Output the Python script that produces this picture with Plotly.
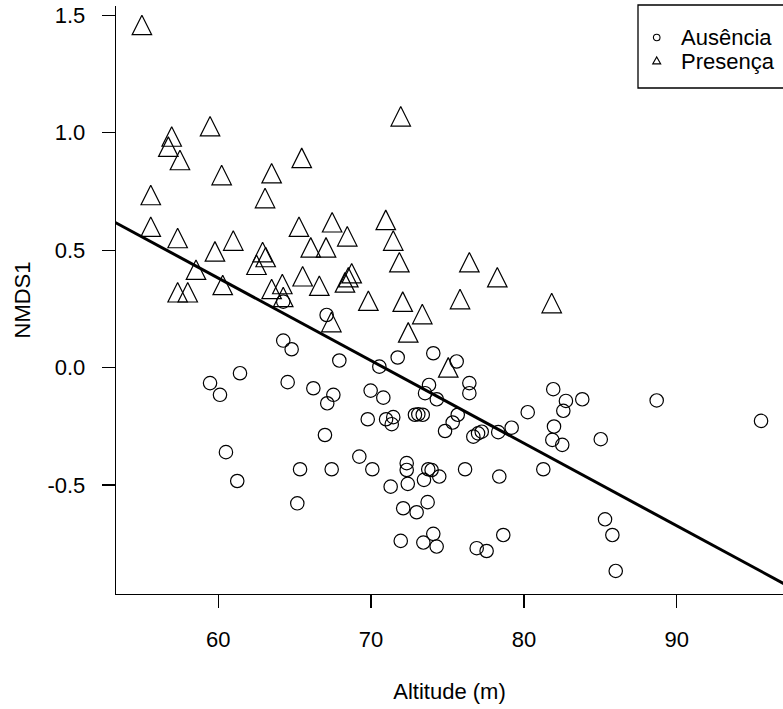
import plotly.graph_objects as go

# ---------------- data ----------------
aus_x = [67.09, 64.25, 64.80, 61.42, 59.46, 60.11, 64.54, 66.22, 67.53, 67.13,
         67.92, 66.98, 60.50, 61.24, 65.35, 67.42, 65.17, 70.54, 71.74, 74.07,
         75.60, 69.97, 70.80, 73.79, 73.53, 74.30, 76.43, 76.43, 69.78, 70.98,
         71.45, 71.35, 72.87, 73.09, 73.38, 74.84, 75.34, 75.67, 76.69, 77.00,
         77.24, 78.32, 79.20, 80.25, 81.92, 81.97, 81.86, 69.23, 70.08, 72.33,
         72.33, 73.74, 73.96, 74.46, 73.46, 72.40, 71.28, 76.15, 78.39, 81.27,
         73.70, 72.10, 72.98, 71.94, 73.42, 74.07, 74.29, 76.91, 77.56, 78.65,
         82.75, 82.58, 83.82, 88.69, 95.52, 82.51, 85.03, 85.31, 85.79, 86.01,
         64.25]
aus_y = [0.224, 0.115, 0.078, -0.024, -0.066, -0.116, -0.062, -0.088, -0.116, -0.152,
         0.030, -0.287, -0.360, -0.483, -0.433, -0.433, -0.578, 0.004, 0.043, 0.061,
         0.026, -0.098, -0.128, -0.074, -0.109, -0.135, -0.066, -0.109, -0.220, -0.220,
         -0.211, -0.241, -0.201, -0.199, -0.201, -0.270, -0.234, -0.201, -0.294, -0.280,
         -0.273, -0.275, -0.256, -0.190, -0.092, -0.251, -0.308, -0.379, -0.433, -0.407,
         -0.436, -0.433, -0.436, -0.464, -0.478, -0.495, -0.507, -0.433, -0.464, -0.433,
         -0.573, -0.599, -0.616, -0.738, -0.745, -0.708, -0.762, -0.769, -0.781, -0.713,
         -0.142, -0.184, -0.135, -0.140, -0.227, -0.329, -0.305, -0.646, -0.713, -0.866,
         0.281]

pres_x = [55.00, 56.95, 56.73, 57.49, 59.46, 60.22, 63.49, 65.46, 55.58, 63.06,
          55.58, 57.34, 60.98, 65.28, 59.78, 67.45, 66.05, 67.05, 62.90, 63.10,
          62.50, 58.54, 65.52, 66.61, 60.29, 57.34, 58.00, 63.49, 64.19, 64.25,
          71.94, 70.96, 68.44, 71.45, 71.85, 76.43, 78.26, 68.73, 68.51, 68.29,
          69.82, 72.07, 75.82, 81.82, 73.35, 72.43, 75.05, 67.40]
pres_y = [1.445, 0.970, 0.927, 0.870, 1.014, 0.806, 0.814, 0.879, 0.721, 0.708,
          0.586, 0.538, 0.527, 0.586, 0.481, 0.605, 0.498, 0.498, 0.478, 0.457,
          0.424, 0.403, 0.375, 0.335, 0.338, 0.307, 0.307, 0.321, 0.342, 0.287,
          1.056, 0.615, 0.545, 0.527, 0.435, 0.435, 0.371, 0.388, 0.371, 0.349,
          0.271, 0.267, 0.278, 0.261, 0.214, 0.136, -0.013, 0.180]

series_names = ["Ausência", "Presença"]

# regression line
fit_intercept = 2.490
fit_slope = -0.03515

x_tickvals = [60, 70, 80, 90]
x_ticktext = ["60", "70", "80", "90"]
y_tickvals = [-0.5, 0.0, 0.5, 1.0, 1.5]
y_ticktext = ["-0.5", "0.0", "0.5", "1.0", "1.5"]
x_range = [53.305, 96.957]
y_range = [-0.9641, 1.5396]

x_title = "Altitude (m)"
y_title = "NMDS1"

# ---------------- layout constants ----------------
W, H = 783, 709
ML, MR, MT, MB = 116, 0, 6, 115
FONT = "Liberation Sans, Arial, sans-serif"
FS = 22


def paper_x(px):
    return (px - ML) / (W - ML - MR)


def paper_y(py):
    return (H - MB - py) / (H - MT - MB)


fig = go.Figure()

fig.add_trace(go.Scatter(
    x=aus_x, y=aus_y, mode="markers", name=series_names[0], showlegend=False,
    marker=dict(symbol="circle-open", size=13.4, color="black",
                line=dict(color="black", width=1.2)),
    cliponaxis=False,
))

tri_size = 19.5
fig.add_trace(go.Scatter(
    x=pres_x, y=pres_y, mode="markers", name=series_names[1], showlegend=False,
    marker=dict(symbol="arrow-down-open", angle=180, standoff=2 * tri_size / 3,
                size=tri_size, color="black",
                line=dict(color="black", width=1.2)),
    cliponaxis=False,
))

line_x = [x_range[0] - 1, x_range[1] + 1]
line_y = [fit_intercept + fit_slope * v for v in line_x]
fig.add_trace(go.Scatter(
    x=line_x, y=line_y, mode="lines", showlegend=False,
    line=dict(color="black", width=3),
))

axis_common = dict(
    showgrid=False, zeroline=False, showline=True, linecolor="black",
    linewidth=1.3, ticks="outside", ticklen=13, tickwidth=1.3,
    tickcolor="black", mirror=False,
    tickfont=dict(family=FONT, size=FS, color="black"),
)

fig.update_xaxes(
    range=x_range, tickmode="array", tickvals=x_tickvals, ticktext=x_ticktext,
    ticklabelstandoff=12,
    title=dict(text=x_title, font=dict(family=FONT, size=FS, color="black"),
               standoff=33),
    **axis_common,
)
fig.update_yaxes(
    range=y_range, tickmode="array", tickvals=y_tickvals, ticktext=y_ticktext,
    ticklabelstandoff=12,
    title=dict(text=y_title, font=dict(family=FONT, size=FS, color="black"),
               standoff=10),
    **axis_common,
)

# legend drawn as a box with keys and labels
shapes = [
    dict(type="rect", xref="paper", yref="paper",
         x0=paper_x(638), x1=paper_x(805), y0=paper_y(88), y1=paper_y(5),
         line=dict(color="black", width=1.3), fillcolor="rgba(0,0,0,0)"),
    dict(type="circle", xref="paper", yref="paper",
         xsizemode="pixel", ysizemode="pixel",
         xanchor=paper_x(656.7), yanchor=paper_y(37.5),
         x0=-3.3, x1=3.3, y0=-3.3, y1=3.3,
         line=dict(color="black", width=1.1)),
    dict(type="path", xref="paper", yref="paper",
         xsizemode="pixel", ysizemode="pixel",
         xanchor=paper_x(656.7), yanchor=paper_y(61.5),
         path="M-4,-2.4 L4,-2.4 L0,4.6 Z",
         line=dict(color="black", width=1.1)),
]
annotations = [
    dict(text=series_names[0], xref="paper", yref="paper",
         x=paper_x(679), y=paper_y(38), xanchor="left", yanchor="middle",
         showarrow=False, font=dict(family=FONT, size=FS, color="black")),
    dict(text=series_names[1], xref="paper", yref="paper",
         x=paper_x(679), y=paper_y(61), xanchor="left", yanchor="middle",
         showarrow=False, font=dict(family=FONT, size=FS, color="black")),
]

fig.update_layout(
    width=W, height=H,
    margin=dict(l=ML, r=MR, t=MT, b=MB, pad=0),
    paper_bgcolor="white", plot_bgcolor="white",
    font=dict(family=FONT, size=FS, color="black"),
    showlegend=False,
    shapes=shapes, annotations=annotations,
)

# remove the browser's default page margin so the figure sits at (0, 0)
fig.write_html("out.html",
               config={"displayModeBar": False, "staticPlot": True},
               post_script="document.body.style.margin='0';"
                           "document.body.style.overflow='hidden';")
